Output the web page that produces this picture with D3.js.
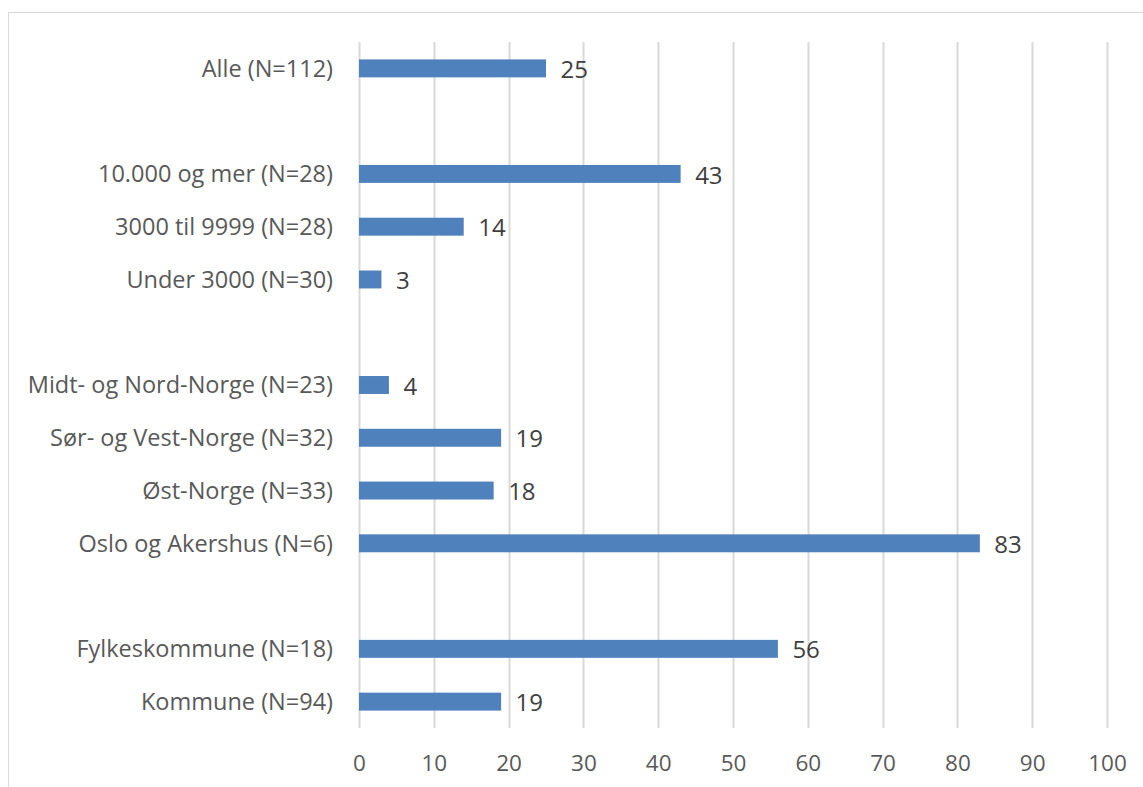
<!DOCTYPE html>
<html>
<head>
<meta charset="utf-8">
<script src="https://cdn.jsdelivr.net/npm/d3@7"></script>
<style>
  body { margin: 0; background: #fff; }
  text { font-family: "Open Sans", "Noto Sans", sans-serif; }
</style>
</head>
<body>
<div id="chart"></div>
<script>
// categories top to bottom, blank strings are the gaps between groups
var categories = [
    "Alle (N=112)",
    "",
    "10.000 og mer (N=28)",
    "3000 til 9999 (N=28)",
    "Under 3000 (N=30)",
    "",
    "Midt- og Nord-Norge (N=23)",
    "Sør- og Vest-Norge (N=32)",
    "Øst-Norge (N=33)",
    "Oslo og Akershus (N=6)",
    "",
    "Fylkeskommune (N=18)",
    "Kommune (N=94)"
];
var values = [25, null, 43, 14, 3, null, 4, 19, 18, 83, null, 56, 19];
var xTicks = [0, 10, 20, 30, 40, 50, 60, 70, 80, 90, 100];

var width = 1143, height = 787;
var margin = { top: 42, right: 36, bottom: 59, left: 359 };

var svg = d3.select("#chart")
    .append("svg")
    .attr("width", width)
    .attr("height", height);

// chart area border
svg.append("rect")
    .attr("x", 8.5)
    .attr("y", 12.5)
    .attr("width", width)
    .attr("height", height)
    .attr("fill", "none")
    .attr("stroke", "#d9d9d9")
    .attr("stroke-width", 1);

var x = d3.scaleLinear()
    .domain([0, 100])
    .range([margin.left, width - margin.right]);

var y = d3.scaleBand()
    .domain(d3.range(categories.length))
    .range([margin.top, height - margin.bottom])
    .paddingInner(0.66)
    .paddingOuter(0.33);

// vertical gridlines
svg.append("g")
    .selectAll("line")
    .data(xTicks)
    .enter()
    .append("line")
    .attr("x1", function(d) { return Math.round(x(d)) + 0.5; })
    .attr("x2", function(d) { return Math.round(x(d)) + 0.5; })
    .attr("y1", margin.top)
    .attr("y2", height - margin.bottom)
    .attr("stroke", "#d9d9d9")
    .attr("stroke-width", 2);

// x axis labels
var xAxis = d3.axisBottom(x)
    .tickValues(xTicks)
    .tickSize(0)
    .tickPadding(0);

var gx = svg.append("g")
    .attr("transform", "translate(0," + (height - margin.bottom) + ")")
    .call(xAxis);
gx.select(".domain").remove();
gx.selectAll("text")
    .attr("y", 43)
    .attr("dy", 0)
    .attr("fill", "#595959")
    .style("font-size", "22.5px");

var rows = categories.map(function(c, i) { return { i: i, name: c, v: values[i] }; });

// bars
svg.append("g")
    .selectAll("rect")
    .data(rows.filter(function(d) { return d.v != null; }))
    .enter()
    .append("rect")
    .attr("x", x(0))
    .attr("y", function(d) { return y(d.i); })
    .attr("width", function(d) { return x(d.v) - x(0); })
    .attr("height", y.bandwidth())
    .attr("fill", "#4f81bd");

// value labels
svg.append("g")
    .selectAll("text")
    .data(rows.filter(function(d) { return d.v != null; }))
    .enter()
    .append("text")
    .attr("x", function(d) { return x(d.v) + 14.5; })
    .attr("y", function(d) { return y(d.i) + y.bandwidth() / 2; })
    .attr("dy", "0.4em")
    .attr("fill", "#404040")
    .style("font-size", "24px")
    .text(function(d) { return d.v; });

// category labels
svg.append("g")
    .selectAll("text")
    .data(rows.filter(function(d) { return d.name !== ""; }))
    .enter()
    .append("text")
    .attr("x", margin.left - 26)
    .attr("y", function(d) { return y(d.i) + y.bandwidth() / 2; })
    .attr("dy", "0.36em")
    .attr("text-anchor", "end")
    .attr("fill", "#595959")
    .style("font-size", "23.5px")
    .text(function(d) { return d.name; });
</script>
</body>
</html>
